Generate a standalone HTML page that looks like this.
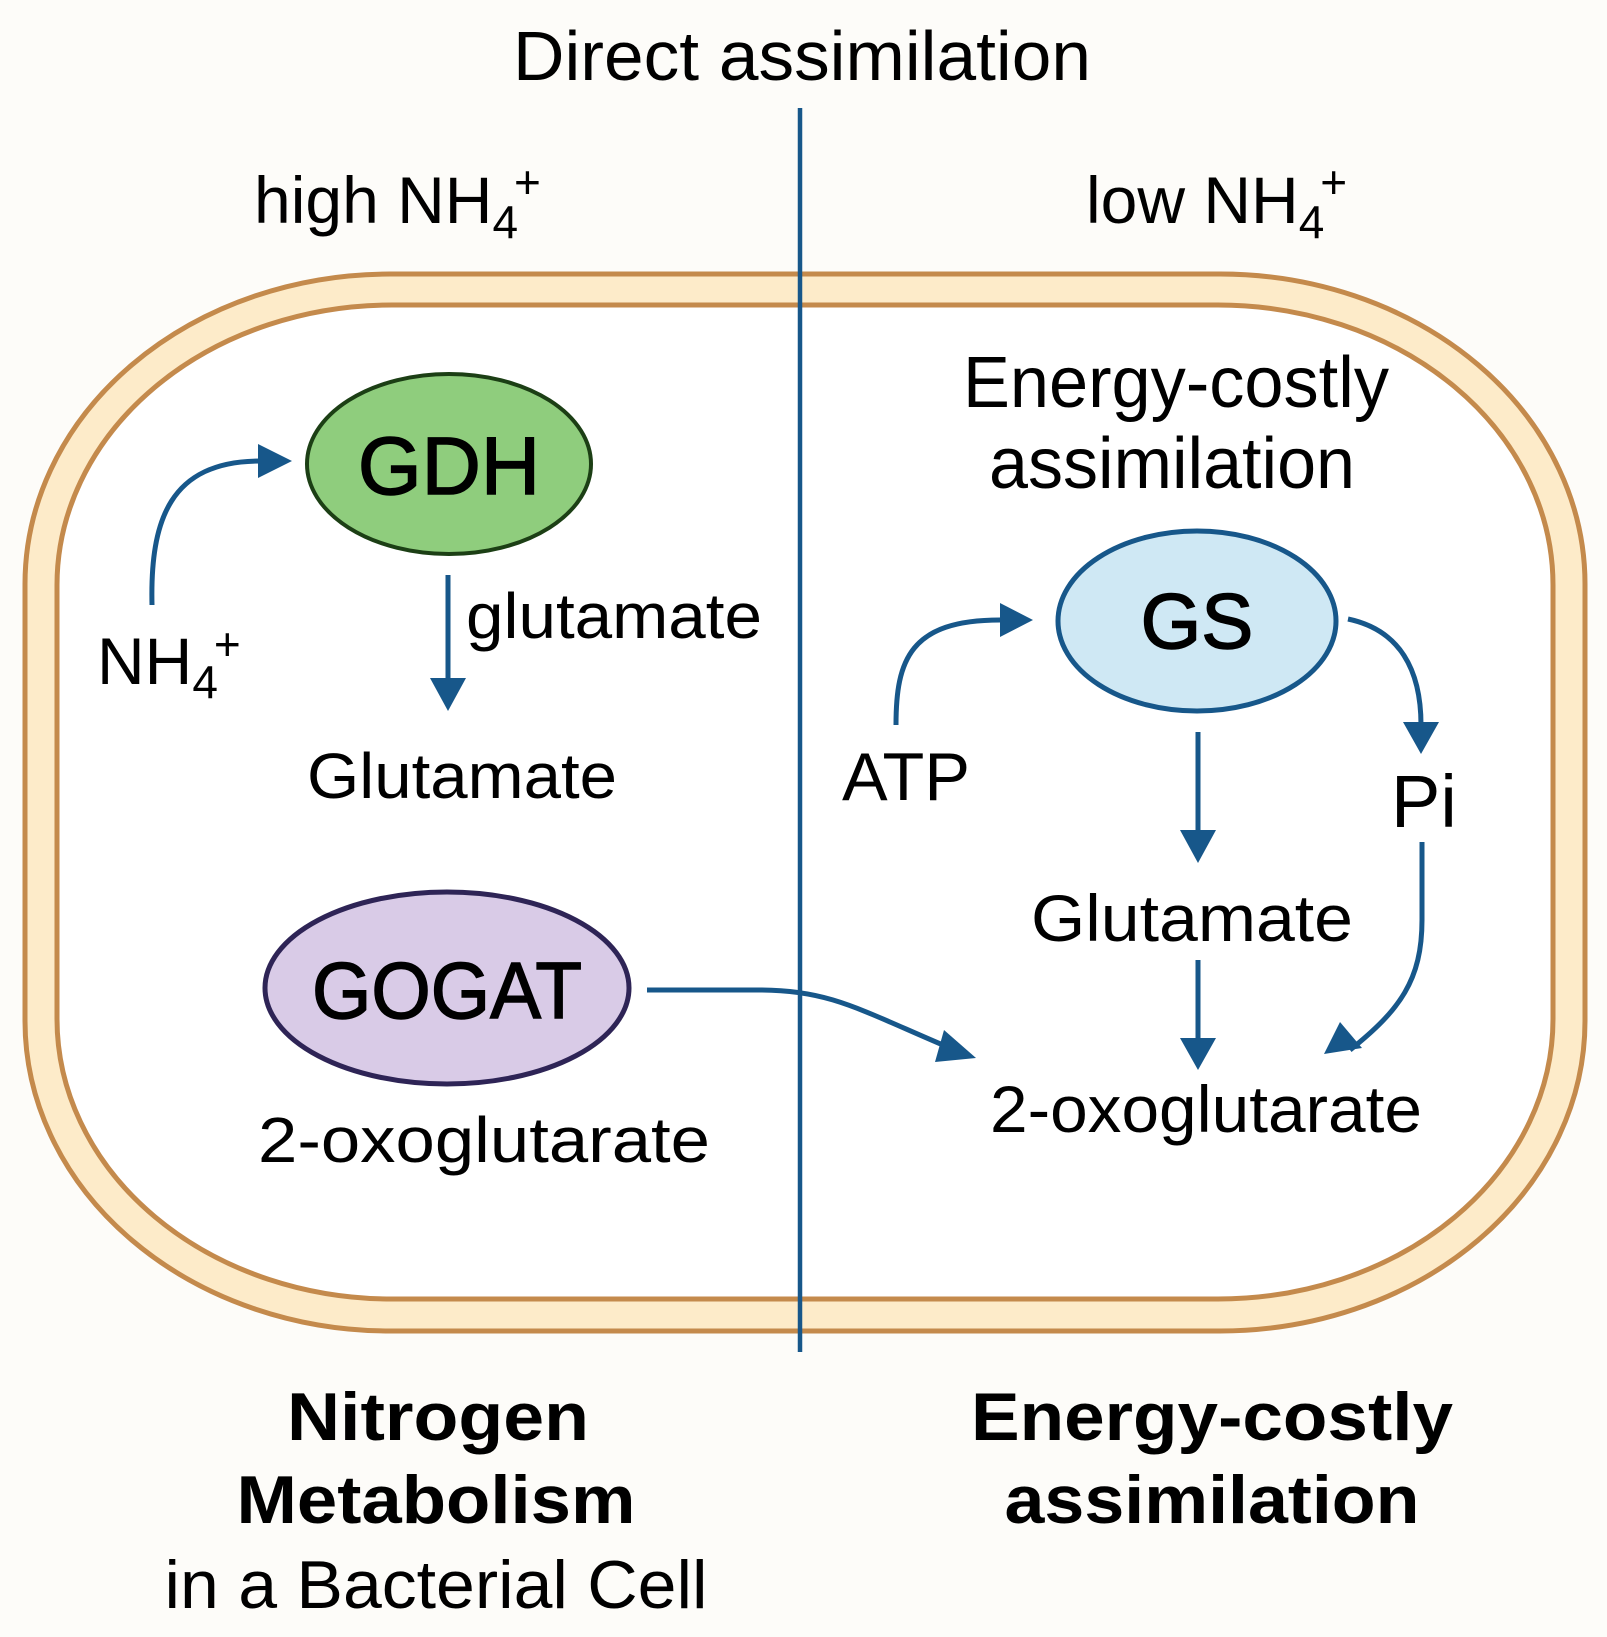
<!DOCTYPE html>
<html><head><meta charset="utf-8"><style>
html,body{margin:0;padding:0;background:#fdfcf9}
svg{display:block}
text{font-family:"Liberation Sans",Arial,sans-serif;fill:#000}
</style></head><body>
<svg width="1607" height="1637" viewBox="0 0 1607 1637" xmlns="http://www.w3.org/2000/svg">
<rect width="1607" height="1637" fill="#fdfcf9"/>
<!-- cell -->
<rect x="25" y="274" width="1560" height="1057" rx="365" ry="310" fill="#fdebc9" stroke="#c48a4c" stroke-width="5"/>
<rect x="57" y="305" width="1496" height="994" rx="335" ry="280" fill="#ffffff" stroke="#c48a4c" stroke-width="5"/>
<!-- divider -->
<line x1="800" y1="108" x2="800" y2="1352" stroke="#17578a" stroke-width="4.5"/>

<text x="802" y="80" font-size="70" text-anchor="middle" textLength="578" lengthAdjust="spacingAndGlyphs">Direct assimilation</text>
<text x="254" y="223" font-size="66">high NH<tspan font-size="46" dy="15">4</tspan><tspan font-size="46" dx="-4" dy="-40">+</tspan></text>
<text x="1086" y="223" font-size="66">low NH<tspan font-size="46" dy="15">4</tspan><tspan font-size="46" dx="-4" dy="-40">+</tspan></text>

<!-- GDH -->
<ellipse cx="449" cy="464" rx="142" ry="90" fill="#8fcd7d" stroke="#1c3f15" stroke-width="4"/>
<text x="449" y="494" font-size="82" text-anchor="middle" stroke="#000" stroke-width="1.5">GDH</text>
<!-- NH4 arrow -->
<path d="M152,605 C150,520 170,461 260,461" fill="none" stroke="#17578a" stroke-width="5"/>
<polygon points="292,461 258,444 258,478" fill="#17578a"/>
<text x="97" y="684" font-size="66">NH<tspan font-size="46" dy="14">4</tspan><tspan font-size="46" dx="-4" dy="-38">+</tspan></text>
<!-- glutamate arrow -->
<line x1="448" y1="575" x2="448" y2="685" stroke="#17578a" stroke-width="5"/>
<polygon points="430,678 466,678 448,711" fill="#17578a"/>
<text x="466" y="638" font-size="64" textLength="296" lengthAdjust="spacingAndGlyphs">glutamate</text>
<text x="307" y="798" font-size="64" textLength="310" lengthAdjust="spacingAndGlyphs">Glutamate</text>

<!-- GOGAT -->
<ellipse cx="447" cy="988" rx="182" ry="96" fill="#d9cbe7" stroke="#2e2456" stroke-width="5"/>
<text x="447" y="1018" font-size="80" text-anchor="middle" stroke="#000" stroke-width="1.5" textLength="270" lengthAdjust="spacingAndGlyphs">GOGAT</text>
<text x="258" y="1162" font-size="64" textLength="452" lengthAdjust="spacingAndGlyphs">2-oxoglutarate</text>
<path d="M647,990 L760,990 C830,990 860,1010 950,1048" fill="none" stroke="#17578a" stroke-width="5"/>
<polygon points="976,1058 944,1030 935,1062" fill="#17578a"/>

<!-- right side -->
<text x="963" y="407" font-size="72" textLength="426" lengthAdjust="spacingAndGlyphs">Energy-costly</text>
<text x="989" y="488" font-size="72" textLength="366" lengthAdjust="spacingAndGlyphs">assimilation</text>

<ellipse cx="1197" cy="621" rx="139" ry="90" fill="#cfe8f4" stroke="#17578a" stroke-width="5"/>
<text x="1197" y="648" font-size="78" text-anchor="middle" stroke="#000" stroke-width="1.5">GS</text>

<path d="M896,725 C896,660 910,620 1000,620" fill="none" stroke="#17578a" stroke-width="5"/>
<polygon points="1033,620 1000,603 1000,637" fill="#17578a"/>
<text x="842" y="800" font-size="68" textLength="128" lengthAdjust="spacingAndGlyphs">ATP</text>

<path d="M1348,619 C1400,630 1421,670 1421,725" fill="none" stroke="#17578a" stroke-width="5"/>
<polygon points="1403,722 1439,722 1421,754" fill="#17578a"/>
<text x="1391" y="827" font-size="74">Pi</text>

<line x1="1198" y1="732" x2="1198" y2="835" stroke="#17578a" stroke-width="5"/>
<polygon points="1180,830 1216,830 1198,863" fill="#17578a"/>
<text x="1192" y="941" font-size="66" text-anchor="middle" textLength="322" lengthAdjust="spacingAndGlyphs">Glutamate</text>

<line x1="1198" y1="960" x2="1198" y2="1042" stroke="#17578a" stroke-width="5"/>
<polygon points="1180,1038 1216,1038 1198,1070" fill="#17578a"/>

<path d="M1422,842 L1422,920 C1422,980 1400,1010 1350,1050" fill="none" stroke="#17578a" stroke-width="5"/>
<polygon points="1324,1054 1340,1022 1362,1048" fill="#17578a"/>

<text x="1206" y="1132" font-size="66" text-anchor="middle" textLength="432" lengthAdjust="spacingAndGlyphs">2-oxoglutarate</text>

<!-- bottom titles -->
<text x="438" y="1440" font-size="68" font-weight="bold" text-anchor="middle" textLength="302" lengthAdjust="spacingAndGlyphs">Nitrogen</text>
<text x="436" y="1523" font-size="68" font-weight="bold" text-anchor="middle" textLength="399" lengthAdjust="spacingAndGlyphs">Metabolism</text>
<text x="436" y="1608" font-size="68" text-anchor="middle" textLength="543" lengthAdjust="spacingAndGlyphs">in a Bacterial Cell</text>
<text x="1212" y="1440" font-size="68" font-weight="bold" text-anchor="middle" textLength="482" lengthAdjust="spacingAndGlyphs">Energy-costly</text>
<text x="1212" y="1523" font-size="68" font-weight="bold" text-anchor="middle" textLength="415" lengthAdjust="spacingAndGlyphs">assimilation</text>
</svg>
</body></html>
